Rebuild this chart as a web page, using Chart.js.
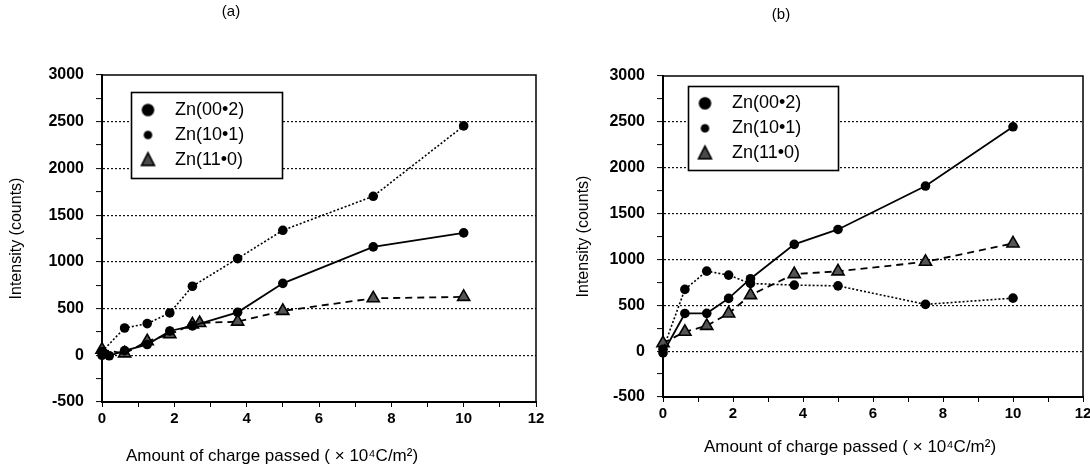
<!DOCTYPE html>
<html><head><meta charset="utf-8">
<script src="https://cdn.jsdelivr.net/npm/chart.js@4.4.1/dist/chart.umd.min.js"></script>
<style>
html,body{margin:0;padding:0;background:#fff;overflow:hidden;width:1090px;height:466px;position:relative;}
canvas{position:absolute;top:0;}
#ca{left:0;} #cb{left:530px;}
</style></head><body>
<canvas id="ca" width="560" height="466"></canvas>
<canvas id="cb" width="580" height="466"></canvas>
<script>
// ---- text / ticks ----
const seriesNames = ['Zn(00•2)', 'Zn(10•1)', 'Zn(11•0)'];
const xTickLabels = [0, 2, 4, 6, 8, 10, 12];
const yTickLabels = [-500, 0, 500, 1000, 1500, 2000, 2500, 3000];
const panelLabels = ['(a)', '(b)'];
const xTitle = 'Amount of charge passed ( × 10⁴C/m²)';
const yTitle = 'Intensity (counts)';

// ---- panel (a) data ----
const a002X = [0, 0.2, 0.625, 1.25, 1.875, 2.5, 3.75, 5, 7.5, 10];
const a002Y = [0, -5, 50, 115, 260, 315, 460, 770, 1160, 1310];
const a101X = [0, 0.625, 1.25, 1.875, 2.5, 3.75, 5, 7.5, 10];
const a101Y = [40, 292, 339, 453, 739, 1035, 1338, 1702, 2455];
const a110X = [0, 0.625, 1.25, 1.875, 2.5, 2.7, 3.75, 5, 7.5, 10];
const a110Y = [60, 20, 150, 225, 330, 345, 360, 475, 610, 625];

// ---- panel (b) data ----
const b002X = [0, 0.625, 1.25, 1.875, 2.5, 3.75, 5, 7.5, 10];
const b002Y = [-20, 411, 412, 575, 790, 1164, 1327, 1800, 2446];
const b101X = [0, 0.625, 1.25, 1.875, 2.5, 3.75, 5, 7.5, 10];
const b101Y = [20, 673, 872, 829, 738, 720, 712, 510, 578];
const b110X = [0, 0.625, 1.25, 1.875, 2.5, 3.75, 5, 7.5, 10];
const b110Y = [87, 211, 276, 411, 611, 840, 870, 974, 1174];

const FONT = '"Liberation Sans", Arial, Helvetica, sans-serif';

function pts(xs, ys) { return xs.map((x, i) => ({ x: x, y: ys[i] })); }

function mark(kind, r) {
  const s = Math.ceil(r * 2 + 6);
  const c = document.createElement('canvas');
  c.width = s; c.height = s;
  const g = c.getContext('2d');
  g.translate(s / 2, s / 2);
  g.fillStyle = '#000';
  if (kind === 'circle') {
    g.beginPath(); g.arc(0, 0, r, 0, Math.PI * 2); g.fill();
  } else {
    g.beginPath();
    g.moveTo(0, -r); g.lineTo(r * 0.9, r * 0.75); g.lineTo(-r * 0.9, r * 0.75); g.closePath();
    g.fillStyle = '#4a4a4a'; g.fill();
    g.lineWidth = 1.6; g.strokeStyle = '#000'; g.stroke();
  }
  return c;
}
const legendMarks = [mark('circle', 6.3), mark('circle', 4.3), mark('tri', 7.2)];

function datasets(x1, y1, x2, y2, x3, y3) {
  return [
    { label: seriesNames[0], data: pts(x1, y1), borderColor: '#000', backgroundColor: '#000',
      borderWidth: 1.8, pointRadius: 4.8, pointStyle: 'circle', pointBorderWidth: 0, clip: false },
    { label: seriesNames[1], data: pts(x2, y2), borderColor: '#000', backgroundColor: '#000',
      borderWidth: 1.6, borderDash: [2, 2], pointRadius: 4.8, pointStyle: 'circle', pointBorderWidth: 0, clip: false },
    { label: seriesNames[2], data: pts(x3, y3), borderColor: '#000', backgroundColor: '#555',
      borderWidth: 1.8, borderDash: [7, 5], pointRadius: 7, pointStyle: 'triangle',
      pointBorderColor: '#000', pointBorderWidth: 1.6, clip: false }
  ];
}

const decor = {
  id: 'decor',
  afterLayout(chart, args, o) {
    if (chart.legend) { chart.legend.left = o.legendLeft; chart.legend.top = o.legendTop; }
  },
  beforeDatasetsDraw(chart) {
    const { ctx, chartArea: a } = chart;
    ctx.save();
    ctx.strokeStyle = '#000'; ctx.lineWidth = 1.5;
    ctx.beginPath(); ctx.moveTo(a.left, a.top); ctx.lineTo(a.right, a.top); ctx.lineTo(a.right, a.bottom); ctx.stroke();
    ctx.restore();
  },
  afterDraw(chart, args, o) {
    const ctx = chart.ctx;
    const [l, t, r, b] = o.box;
    ctx.save();
    ctx.fillStyle = '#fff'; ctx.fillRect(l, t, r - l, b - t);
    ctx.lineWidth = 1.6; ctx.strokeStyle = '#000'; ctx.strokeRect(l, t, r - l, b - t);
    ctx.restore();
    chart.legend.draw(chart.chartArea);
    ctx.save();
    ctx.fillStyle = '#000'; ctx.textAlign = 'center'; ctx.textBaseline = 'middle';
    ctx.font = '15px ' + FONT; ctx.fillText(o.panel, o.px, o.py);
    ctx.font = '17px ' + FONT; ctx.fillText(xTitle, o.tx, o.ty);
    ctx.restore();
  }
};

function makeChart(id, ds, cfg) {
  return new Chart(document.getElementById(id), {
    type: 'line',
    data: { datasets: ds },
    plugins: [decor],
    options: {
      responsive: false, animation: false, devicePixelRatio: 1,
      layout: { padding: { left: 0, top: cfg.top, right: cfg.right, bottom: 0 } },
      plugins: {
        tooltip: { enabled: false },
        legend: {
          position: 'chartArea', align: 'start',
          labels: {
            usePointStyle: true, pointStyleWidth: 36, padding: 7, color: '#000',
            font: { family: FONT, size: 18 },
            generateLabels: ch => {
              const items = Chart.defaults.plugins.legend.labels.generateLabels(ch);
              items.forEach((it, i) => { it.pointStyle = legendMarks[i]; it.lineWidth = 0; });
              return items;
            }
          }
        },
        decor: cfg.decor
      },
      scales: {
        x: {
          type: 'linear', min: 0, max: 12,
          afterFit: s => { s.height = cfg.xh; },
          ticks: {
            stepSize: 1, autoSkip: false, maxRotation: 0, color: '#000', padding: 3,
            font: { family: FONT, size: 15, weight: 'bold' },
            callback: v => xTickLabels.includes(v) ? String(v) : ''
          },
          grid: { drawOnChartArea: false, tickLength: 5, tickColor: '#000', tickWidth: 1 },
          border: { color: '#000', width: 2 }
        },
        y: {
          type: 'linear', min: -500, max: 3000,
          afterFit: s => { s.width = cfg.yw; },
          title: { display: true, text: yTitle, color: '#000', font: { family: FONT, size: 16 }, padding: { top: cfg.ytp, bottom: 0 } },
          ticks: {
            stepSize: 250, autoSkip: false, color: '#000', padding: 12,
            font: { family: FONT, size: 16, weight: 'bold' },
            callback: v => yTickLabels.includes(v) ? String(v) : ''
          },
          grid: {
            color: c => (c.tick && c.tick.value % 500 === 0 && c.tick.value > -500 && c.tick.value < 3000) ? '#111' : 'rgba(0,0,0,0)',
            lineWidth: 1.2, tickLength: 6, tickColor: '#000', tickWidth: 1
          },
          border: { color: '#000', width: 2, dash: [2, 2] }
        }
      }
    }
  });
}

makeChart('ca', datasets(a002X, a002Y, a101X, a101Y, a110X, a110Y), {
  top: 75, right: 24, xh: 64, yw: 102, ytp: 7,
  decor: { legendLeft: 123, legendTop: 94, box: [131.5, 92.5, 282.5, 178.5], panel: panelLabels[0], px: 231, py: 12, tx: 272, ty: 456 }
});
makeChart('cb', datasets(b002X, b002Y, b101X, b101Y, b110X, b110Y), {
  top: 76, right: 27, xh: 69, yw: 133, ytp: 43.5,
  decor: { legendLeft: 150, legendTop: 87.3, box: [158.5, 86.5, 308.5, 170.5], panel: panelLabels[1], px: 251, py: 15, tx: 320, ty: 447 }
});
</script>
</body></html>
